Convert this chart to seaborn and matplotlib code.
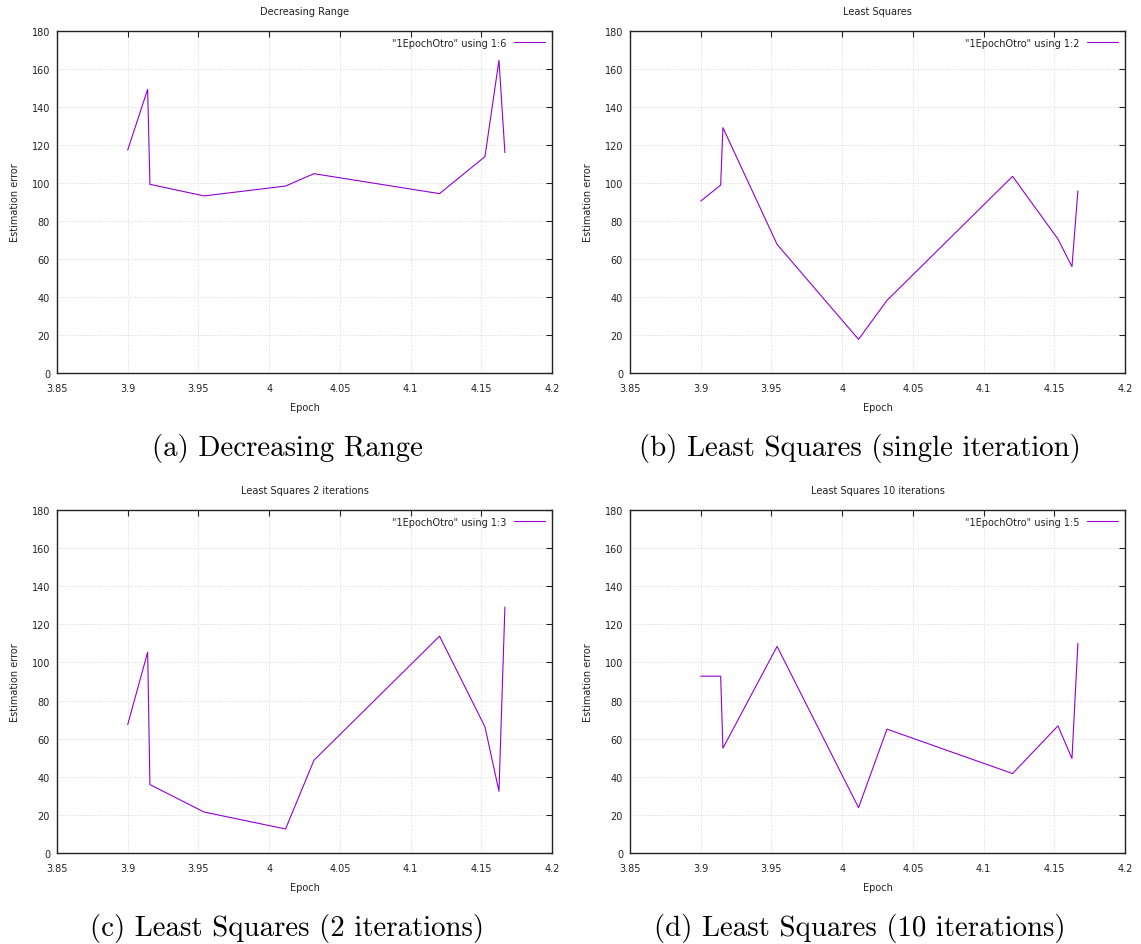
import matplotlib
matplotlib.use("Agg")
import matplotlib.pyplot as plt
import seaborn as sns
import pandas as pd

# epoch values shared by all runs
epoch = [3.900, 3.9141, 3.9157, 3.954, 4.0116, 4.0317, 4.1205, 4.1526, 4.1625, 4.1667]

# estimation error per method
decreasing_range = [117.4, 149.3, 99.3, 93.2, 98.4, 104.9, 94.4, 113.9, 164.6, 116.0]
ls_single = [90.5, 98.9, 129.1, 67.7, 17.7, 38.2, 103.5, 70.5, 56.0, 95.8]
ls_2iter = [67.4, 105.4, 35.9, 21.5, 12.6, 48.7, 113.8, 66.2, 32.4, 129.1]
ls_10iter = [92.8, 92.8, 55.0, 108.4, 23.8, 65.0, 41.7, 66.7, 49.6, 110.0]

titles = ["Decreasing Range", "Least Squares", "Least Squares 2 iterations", "Least Squares 10 iterations"]
legends = ['"1EpochOtro" using 1:6', '"1EpochOtro" using 1:2', '"1EpochOtro" using 1:3', '"1EpochOtro" using 1:5']
captions = ["(a) Decreasing Range", "(b) Least Squares (single iteration)",
            "(c) Least Squares (2 iterations)", "(d) Least Squares (10 iterations)"]
xticks = [3.85, 3.9, 3.95, 4.0, 4.05, 4.1, 4.15, 4.2]
xticklabels = ["3.85", "3.9", "3.95", "4", "4.05", "4.1", "4.15", "4.2"]

sns.set_style("white")
plt.rcParams['font.family'] = ['DejaVu Sans']
plt.rcParams['text.color'] = '#222222'

W, H = 1141, 945
fig = plt.figure(figsize=(W / 100, H / 100), dpi=100)

# axes boxes in pixels: left, top, right, bottom
boxes = [(57, 32, 552, 374), (630, 32, 1125, 374), (57, 511, 552, 854), (630, 511, 1125, 854)]
# caption centres (subfigure centres, a bit left of the axes centre)
cap_pos = [(287, 449), (860, 449), (287, 929), (860, 929)]
series = [decreasing_range, ls_single, ls_2iter, ls_10iter]

for i in range(4):
    l, t, r, b = boxes[i]
    ax = fig.add_axes([l / W, 1 - b / H, (r - l) / W, (b - t) / H])
    df = pd.DataFrame({"Epoch": epoch, "err": series[i]})
    sns.lineplot(data=df, x="Epoch", y="err", ax=ax, color="#9400D3", lw=0.8,
                 sort=False, estimator=None, label=legends[i])
    ax.set_xlim(3.85, 4.2)
    ax.set_ylim(0, 180)
    ax.set_xticks(xticks)
    ax.set_xticklabels(xticklabels)
    ax.set_yticks(range(0, 181, 20))
    ax.tick_params(direction="in", top=True, right=True, labelsize=7, length=4, width=0.8,
                   colors="#222222")
    ax.tick_params(axis="x", pad=7)
    ax.tick_params(axis="y", pad=5)
    ax.grid(True, ls=(0, (1, 2)), color="#cccccc", lw=0.6)
    for s in ax.spines.values():
        s.set_color("#222222")
        s.set_linewidth(1.0)
    ax.set_xlabel("Epoch", fontsize=7, labelpad=7, color="#222222")
    ax.set_ylabel("Estimation error", fontsize=7, labelpad=8, color="#222222")
    ax.set_title(titles[i], fontsize=7, pad=12, color="#222222")
    ax.legend(loc="upper right", frameon=False, markerfirst=False, fontsize=7,
              handlelength=3.2, borderaxespad=0.3)
    cx, cy = cap_pos[i]
    fig.text(cx / W, 1 - cy / H, captions[i], family="cmr10", fontsize=20.8,
             ha="center", va="center", color="black")

fig.savefig("out.png", dpi=100)
